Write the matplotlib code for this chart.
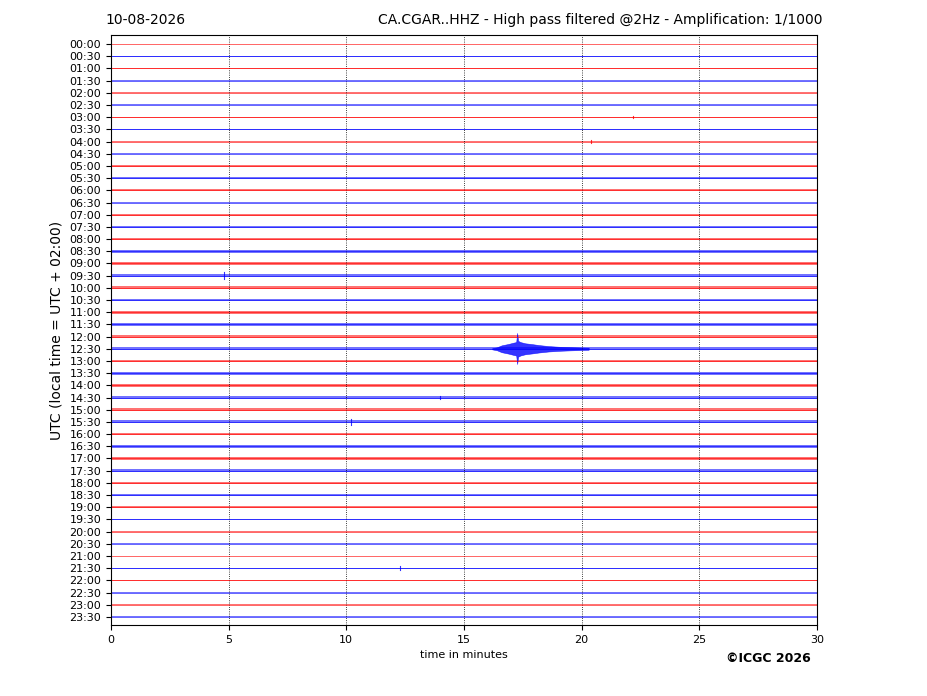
import numpy as np
import matplotlib
matplotlib.use("Agg")
import matplotlib.pyplot as plt

# 48 half-hour lines, labels top to bottom
hours = [f"{h:02d}:{m:02d}" for h in range(24) for m in (0, 30)]

# noise half-width of each line, in units of line spacing (read by eye)
noise = [0.03, 0.04, 0.05, 0.05, 0.04, 0.04, 0.04, 0.04, 0.05, 0.06,
         0.06, 0.07, 0.08, 0.08, 0.09, 0.10, 0.10, 0.11, 0.10, 0.12,
         0.11, 0.12, 0.11, 0.12, 0.10, 0.12, 0.11, 0.12, 0.11, 0.12,
         0.11, 0.12, 0.10, 0.11, 0.10, 0.10, 0.10, 0.11, 0.09, 0.05,
         0.04, 0.04, 0.04, 0.05, 0.04, 0.04, 0.05, 0.04]

# the 12:30 event: envelope (minutes, half-amplitude)
event_line = 25
event_t = [16.2, 16.4, 16.6, 16.9, 17.1, 17.22, 17.26, 17.30, 17.4,
           17.6, 17.9, 18.2, 18.6, 19.0, 19.5, 20.3]
event_up = [0.05, 0.12, 0.28, 0.4, 0.5, 0.55, 1.3, 0.65, 0.55,
            0.45, 0.38, 0.3, 0.22, 0.17, 0.13, 0.08]
event_down = [0.05, 0.12, 0.28, 0.4, 0.5, 0.55, 1.25, 0.65, 0.55,
              0.45, 0.38, 0.3, 0.22, 0.17, 0.13, 0.08]

# small spikes: (line, minute, half-amplitude)
blips = [(19, 4.8, 0.3), (31, 10.2, 0.25), (43, 12.3, 0.15), (8, 20.4, 0.1),
         (6, 22.2, 0.08), (29, 14.0, 0.15)]

fig = plt.figure(figsize=(9.27, 6.96), dpi=100)
ax = fig.add_axes([0.1197, 0.102, 0.7616, 0.8477])

for i, a in enumerate(noise):
    col = 'r' if i % 2 == 0 else 'b'
    ax.fill_between([0, 30], -i - a, -i + a, color=col, lw=0, alpha=0.55)
    ax.plot([0, 30], [-i, -i], color=col, lw=0.6, alpha=0.7)

col = 'r' if event_line % 2 == 0 else 'b'
ax.fill_between(event_t, -event_line - np.array(event_down),
                -event_line + np.array(event_up), color=col, lw=0.4,
                alpha=0.8)

for line, t, a in blips:
    col = 'r' if line % 2 == 0 else 'b'
    ax.plot([t, t], [-line - a, -line + a], color=col, lw=0.8, alpha=0.8)

ax.set_xlim(0, 30)
ax.set_ylim(-47.66, 0.74)
ax.set_xticks(range(0, 31, 5))
ax.set_yticks([-i for i in range(48)])
ax.set_yticklabels(hours)
ax.tick_params(labelsize=8)
ax.xaxis.grid(True, color='k', ls=':', lw=0.6)
ax.set_xlabel('time in minutes', fontsize=8)
ax.set_ylabel('UTC (local time = UTC + 02:00)', fontsize=10)

fig.text(105 / 927, 1 - 20 / 696, '10-08-2026', fontsize=10, va='center')
fig.text(822 / 927, 1 - 20 / 696,
         'CA.CGAR..HHZ - High pass filtered @2Hz - Amplification: 1/1000',
         fontsize=10, va='center', ha='right')
fig.text(811 / 927, 1 - 658 / 696, '\u00a9ICGC 2026', fontsize=9,
         fontweight='bold', va='center', ha='right')

fig.savefig('out.png', dpi=100)
